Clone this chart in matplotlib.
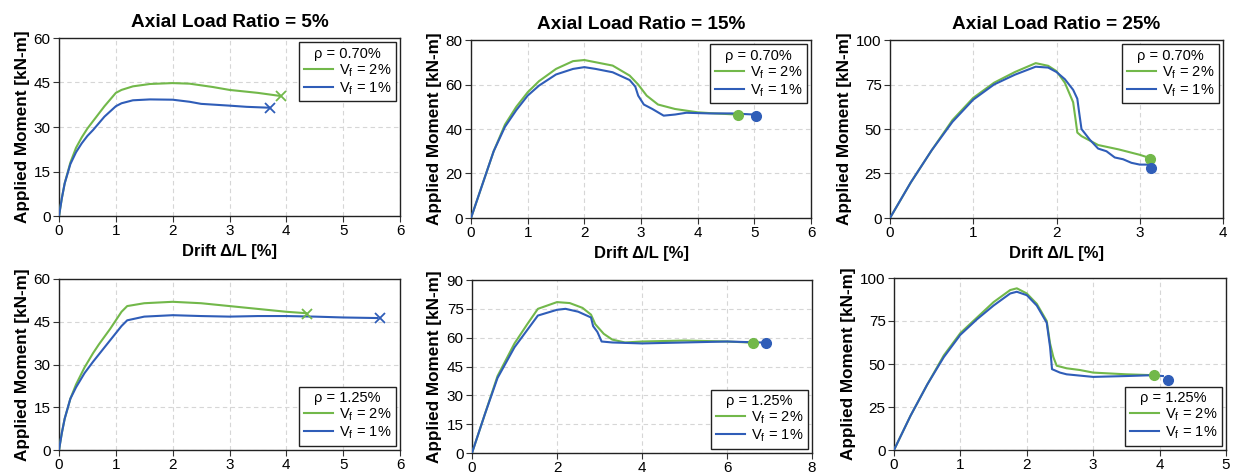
import matplotlib.pyplot as plt
from matplotlib.lines import Line2D

plt.rcParams['font.family'] = ['Liberation Sans', 'DejaVu Sans']

GREEN = '#72B84A'
BLUE = '#2F5DB8'

# ---- data ----
# ALR 5%, rho 0.70%
a1_g_x = [0, 0.05, 0.1, 0.2, 0.3, 0.4, 0.5, 0.6, 0.8, 1.0, 1.1, 1.3, 1.6, 2.0, 2.3, 2.7, 3.0, 3.5, 3.88]
a1_g_y = [0, 6, 11, 18, 23, 26.5, 29.5, 32, 37, 41.5, 42.5, 43.7, 44.5, 44.8, 44.6, 43.5, 42.5, 41.5, 40.5]
a1_b_x = [0, 0.05, 0.1, 0.2, 0.3, 0.4, 0.5, 0.6, 0.8, 1.0, 1.1, 1.3, 1.6, 2.0, 2.3, 2.5, 3.0, 3.3, 3.7]
a1_b_y = [0, 6, 11, 17.5, 21.5, 24.5, 27, 29, 33.5, 37, 38, 39, 39.3, 39.2, 38.5, 37.8, 37.2, 36.8, 36.5]

# ALR 15%, rho 0.70%
a2_g_x = [0, 0.2, 0.4, 0.6, 0.8, 1.0, 1.2, 1.5, 1.8, 2.0, 2.2, 2.5, 2.8, 2.95, 3.1, 3.3, 3.6, 4.0, 4.3, 4.7]
a2_g_y = [0, 15, 30, 42, 50, 56.5, 61.5, 67, 70.5, 71, 70, 68.5, 64, 60, 55, 51, 49, 47.5, 47, 46.5]
a2_b_x = [0, 0.2, 0.4, 0.6, 0.8, 1.0, 1.2, 1.5, 1.8, 2.0, 2.2, 2.5, 2.8, 2.9, 2.95, 3.05, 3.2, 3.4, 3.6, 3.8, 4.2, 4.6, 5.0]
a2_b_y = [0, 15, 30, 41, 48.5, 55, 59.5, 64.5, 67, 67.8, 67, 65.5, 62, 59, 55, 51, 49, 46, 46.5, 47.3, 47, 47, 46.5]

# ALR 25%, rho 0.70%
a3_g_x = [0, 0.25, 0.5, 0.75, 1.0, 1.25, 1.5, 1.75, 1.9, 2.0, 2.1, 2.2, 2.23, 2.25, 2.3, 2.5, 2.75, 3.0, 3.1]
a3_g_y = [0, 20, 38, 55, 67.5, 76, 82, 87, 85.5, 82.5, 76, 65, 55, 48, 46, 41, 38.5, 35.5, 34]
a3_b_x = [0, 0.25, 0.5, 0.75, 1.0, 1.25, 1.5, 1.75, 1.9, 2.0, 2.1, 2.2, 2.25, 2.27, 2.3, 2.4, 2.5, 2.6, 2.7, 2.8, 2.9, 3.0, 3.12]
a3_b_y = [0, 20, 38, 54, 66.5, 75, 80.5, 85, 84.5, 82, 78, 72, 67, 60, 50, 44, 39, 37.5, 34, 33, 31, 30, 30]

# ALR 5%, rho 1.25%
a4_g_x = [0, 0.05, 0.1, 0.2, 0.3, 0.45, 0.6, 0.7, 0.9, 1.1, 1.2, 1.5, 2.0, 2.5, 3.0, 3.5, 4.0, 4.35]
a4_g_y = [0, 6, 11, 18, 23, 29, 34, 37, 42.5, 48.5, 50.5, 51.5, 52, 51.5, 50.5, 49.5, 48.5, 48]
a4_b_x = [0, 0.05, 0.1, 0.2, 0.3, 0.45, 0.6, 0.7, 0.9, 1.1, 1.2, 1.5, 2.0, 2.5, 3.0, 3.5, 4.0, 4.5, 5.0, 5.6]
a4_b_y = [0, 6, 11, 18, 22, 27, 31, 33.5, 38.5, 43.5, 45.5, 46.8, 47.3, 47, 46.8, 47, 47, 46.8, 46.5, 46.3]

# ALR 15%, rho 1.25%
a5_g_x = [0, 0.3, 0.6, 1.0, 1.3, 1.55, 2.0, 2.3, 2.6, 2.8, 2.9, 3.1, 3.3, 3.6, 4.0, 5.0, 6.0, 6.5]
a5_g_y = [0, 20, 40, 57, 67, 75, 78.5, 78, 75.5, 72, 67, 62, 59, 57.5, 58, 58.5, 58, 57.5]
a5_b_x = [0, 0.3, 0.6, 1.0, 1.3, 1.55, 2.0, 2.2, 2.5, 2.8, 2.85, 2.95, 3.05, 3.3, 4.0, 5.0, 6.0, 6.8]
a5_b_y = [0, 20, 39, 55, 64, 71.5, 74.5, 75, 73.5, 70.5, 66, 63, 58, 57.5, 57, 57.5, 58, 57.5]

# ALR 25%, rho 1.25%
a6_g_x = [0, 0.25, 0.5, 0.75, 1.0, 1.25, 1.5, 1.75, 1.85, 2.0, 2.15, 2.3, 2.35, 2.4, 2.45, 2.6, 2.8, 3.0, 3.5, 3.9]
a6_g_y = [0, 20, 38, 55, 68, 77, 86, 93, 94, 91, 85, 75, 62, 54, 49, 47.5, 46.5, 45, 44, 43.5]
a6_b_x = [0, 0.25, 0.5, 0.75, 1.0, 1.25, 1.5, 1.75, 1.85, 2.0, 2.15, 2.3, 2.35, 2.38, 2.5, 2.6, 3.0, 3.5, 3.9, 4.05]
a6_b_y = [0, 20, 38, 54, 67, 76, 84, 91, 92, 90, 84, 74, 60, 47, 45, 44, 42.5, 43, 43.5, 43]

# end markers (failure points)
end_g = [(3.9, 40.3), (4.72, 46.5), (3.12, 33), (4.37, 47.8), (6.6, 57), (3.92, 43.5)]
end_b = [(3.72, 36.3), (5.03, 45.8), (3.13, 28), (5.65, 46.2), (6.92, 57.3), (4.13, 40.5)]

titles = ['Axial Load Ratio = 5%', 'Axial Load Ratio = 15%', 'Axial Load Ratio = 25%']
rhos = ['ρ = 0.70%', 'ρ = 0.70%', 'ρ = 0.70%', 'ρ = 1.25%', 'ρ = 1.25%', 'ρ = 1.25%']
xlims = [6, 6, 4, 6, 8, 5]
xsteps = [1, 1, 1, 1, 2, 1]
ylims = [60, 80, 100, 60, 90, 100]
ysteps = [15, 20, 25, 15, 15, 25]
markers = ['x', 'o', 'o', 'x', 'o', 'o']

curves = [
    (a1_g_x, a1_g_y, a1_b_x, a1_b_y),
    (a2_g_x, a2_g_y, a2_b_x, a2_b_y),
    (a3_g_x, a3_g_y, a3_b_x, a3_b_y),
    (a4_g_x, a4_g_y, a4_b_x, a4_b_y),
    (a5_g_x, a5_g_y, a5_b_x, a5_b_y),
    (a6_g_x, a6_g_y, a6_b_x, a6_b_y),
]

# axes boxes in pixels: left, top, right, bottom
W, H = 1236, 473
boxes = [(59, 38, 400, 216), (471, 40, 811, 218), (890, 40, 1223, 218),
         (59, 279, 400, 450), (472, 280, 812, 453), (894, 278, 1226, 450)]

fig = plt.figure(figsize=(W / 100, H / 100), dpi=100)

for i in range(6):
    l, t, r, b = boxes[i]
    ax = fig.add_axes([l / W, 1 - b / H, (r - l) / W, (b - t) / H])
    gx, gy, bx, by = curves[i]
    ax.plot(gx, gy, color=GREEN, lw=1.5, zorder=3)
    ax.plot(bx, by, color=BLUE, lw=1.5, zorder=3)
    m = markers[i]
    if m == 'x':
        ax.plot(*end_g[i], marker='x', color=GREEN, ms=7, mew=1.3, zorder=4)
        ax.plot(*end_b[i], marker='x', color=BLUE, ms=7, mew=1.3, zorder=4)
    else:
        ax.plot(*end_g[i], marker='o', color=GREEN, ms=7, zorder=4)
        ax.plot(*end_b[i], marker='o', color=BLUE, ms=7, zorder=4)

    ax.set_xlim(0, xlims[i])
    ax.set_ylim(0, ylims[i])
    ax.set_xticks(range(0, xlims[i] + 1, xsteps[i]))
    ax.set_yticks(range(0, ylims[i] + 1, ysteps[i]))
    ax.grid(True, ls=(0, (4, 3)), color='#d6d6d6', lw=0.8)
    ax.set_axisbelow(True)
    ax.tick_params(labelsize=11, length=4, color='#333333', pad=2)
    for s in ax.spines.values():
        s.set_color('#222222')
        s.set_linewidth(1.0)
    ax.set_ylabel('Applied Moment [kN-m]', fontsize=12.3, fontweight='bold', labelpad=3)
    if i < 3:
        ax.set_title(titles[i], fontsize=13.7, fontweight='bold', pad=8)
        ax.set_xlabel('Drift Δ/L [%]', fontsize=12, fontweight='bold', labelpad=4)

    handles = [Line2D([], [], color=GREEN, lw=1.5), Line2D([], [], color=BLUE, lw=1.5)]
    leg = ax.legend(handles, ['V$_\\mathregular{f}$ = 2%', 'V$_\\mathregular{f}$ = 1%'],
                    title=rhos[i], loc='upper right' if i < 3 else 'lower right',
                    fontsize=10.5, title_fontsize=10.5, frameon=True, fancybox=False,
                    edgecolor='#222222', framealpha=1, handlelength=2.0,
                    handletextpad=0.4, borderpad=0.3, labelspacing=0.1,
                    borderaxespad=0.3)
    leg.get_frame().set_linewidth(1.0)

fig.savefig('out.png', dpi=100)
